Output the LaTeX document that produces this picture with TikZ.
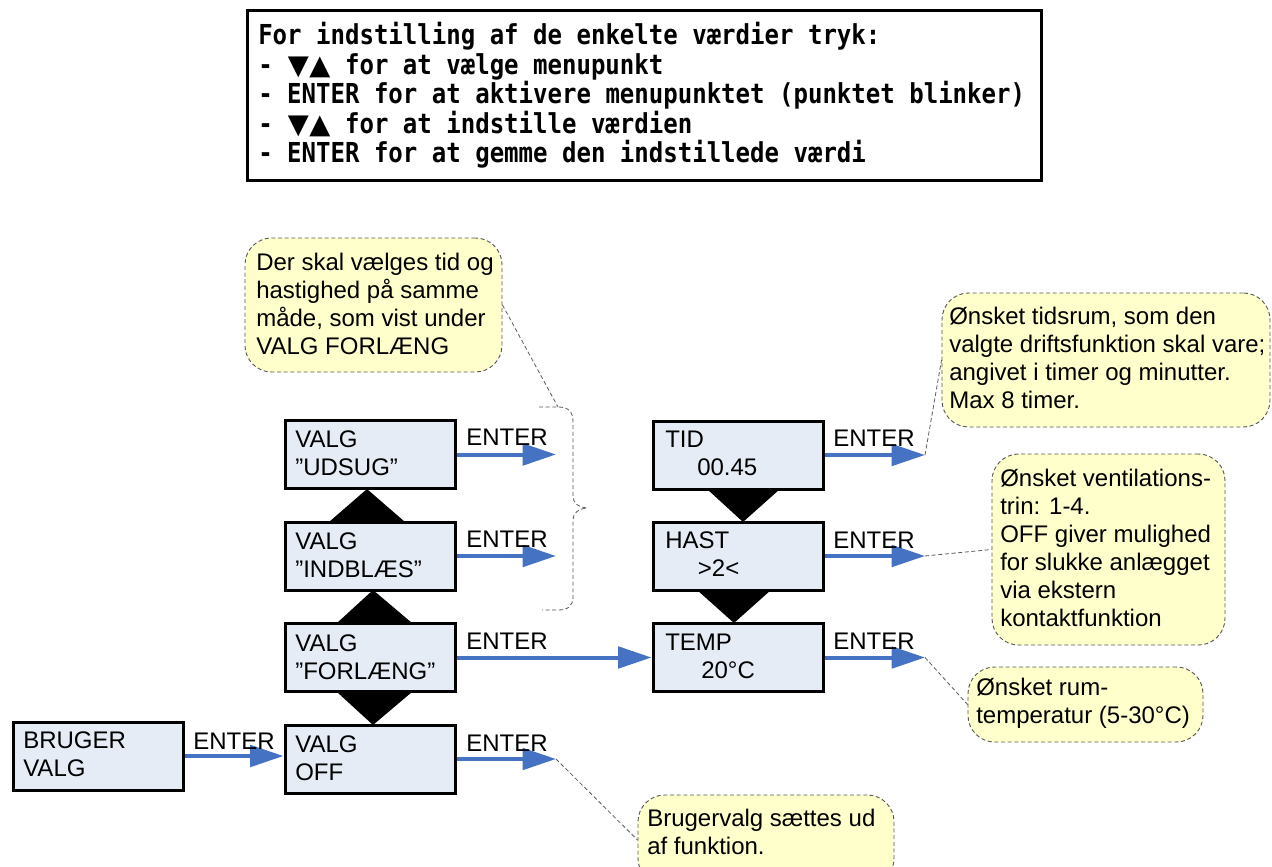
\documentclass[tikz,border=0pt]{standalone}
\usepackage{fontspec}
\setmainfont{Liberation Sans}
\newfontfamily\topmono[FakeStretch=0.875]{DejaVu Sans Mono}
\newfontfamily\trifont{DejaVu Sans}
\newcommand{\updowntri}{\makebox[43.4pt][l]{\hspace*{0.5pt}{\trifont\fontsize{20.5}{20}\selectfont ▼\hspace*{0.3pt}▲}}}
\usetikzlibrary{arrows.meta,calc}
\definecolor{boxblue}{RGB}{230,236,246}
\definecolor{noteyellow}{RGB}{255,255,204}
\definecolor{arrowblue}{RGB}{70,114,196}
\definecolor{notegray}{RGB}{90,90,90}
\tikzset{
  box/.style={draw=black, line width=2.25pt, fill=boxblue, minimum width=127.5pt, minimum height=51pt, inner sep=0pt},
  note/.style={draw=notegray, line width=0.7pt, dash pattern=on 3pt off 2pt, fill=noteyellow, rounded corners=20pt, inner sep=0pt},
  txt/.style={anchor=base west, align=left, inner sep=0pt, font=\fontsize{18}{21}\selectfont},
  enter/.style={draw=arrowblue, line width=3pt, -{Triangle[length=25pt,width=16pt]}},
  pointer/.style={draw=notegray, line width=0.6pt, dash pattern=on 3pt off 2pt},
  tri/.style={fill=black}
}
\begin{document}
\begin{tikzpicture}[x=0.75pt,y=-0.75pt]
\clip (0,0) rectangle (1272,867);
\fill[white] (0,0) rectangle (1272,867);

% instruction box (text anchored at baseline of its last line)
\node[draw=black, line width=2.25pt, minimum width=595.5pt, minimum height=126.75pt, inner sep=0pt] (instr) at (644,95.5) {};
\node[anchor=base west, align=left, inner sep=0pt, font=\topmono\bfseries\fontsize{20.6}{22.1}\selectfont] (instrtext) at (258,162.5)
 {For indstilling af de enkelte værdier tryk:\\
  - \updowntri for at vælge menupunkt\\
  - ENTER for at aktivere menupunktet (punktet blinker)\\
  - \updowntri for at indstille værdien\\
  - ENTER for at gemme den indstillede værdi};

% triangles (behind boxes)
\fill[tri] (329,522) -- (367,489) -- (405,522) -- cycle;
\fill[tri] (337,623) -- (373,590) -- (412,623) -- cycle;
\fill[tri] (337,692) -- (373,725) -- (412,692) -- cycle;
\fill[tri] (707,489) -- (743,522) -- (780,489) -- cycle;
\fill[tri] (697,590) -- (734,623) -- (771,590) -- cycle;

% boxes
\node[box] (udsug) at (370,454.5) {};
\node[box] (indblaes) at (370,556) {};
\node[box] (forlaeng) at (370,657.5) {};
\node[box] (off) at (370,759) {};
\node[box] (bruger) at (98,756) {};
\node[box] (tid) at (738,455) {};
\node[box] (hast) at (738,556) {};
\node[box] (temp) at (738,657.5) {};

\node[txt] (udsugT) at (295,475) {VALG\\”UDSUG”};
\node[txt] (indblaesT) at (295,577) {VALG\\”INDBLÆS”};
\node[txt] (forlaengT) at (295,679) {VALG\\”FORLÆNG”};
\node[txt] (offT) at (295,780) {VALG\\OFF};
\node[txt] (brugerT) at (23,776) {BRUGER\\VALG};
\node[txt] (tidT) at (665,475) {TID\\\hspace*{24pt}00.45};
\node[txt] (hastT) at (665,576) {HAST\\\hspace*{24.5pt}>2<};
\node[txt] (tempT) at (665,678) {TEMP\\\hspace*{27pt}20°C};

% arrow end points
\coordinate (tU) at (556,454.5);
\coordinate (tI) at (556,556);
\coordinate (tO) at (556,759);
\coordinate (tT) at (925,455);
\coordinate (tH) at (925,556);
\coordinate (tTe) at (925,657.5);

\draw[enter] (udsug.east) -- (tU);
\draw[enter] (indblaes.east) -- (tI);
\draw[enter] (forlaeng.east) -- (temp.west);
\draw[enter] (off.east) -- (tO);
\draw[enter] (bruger.east) -- (bruger.east -| off.west);
\draw[enter] (tid.east) -- (tT);
\draw[enter] (hast.east) -- (tH);
\draw[enter] (temp.east) -- (tTe);

\node[txt] (e1) at (466,445) {ENTER};
\node[txt] (e2) at (466,547) {ENTER};
\node[txt] (e3) at (466,649) {ENTER};
\node[txt] (e4) at (466,751) {ENTER};
\node[txt] (e5) at (193,749) {ENTER};
\node[txt] (e6) at (833,446) {ENTER};
\node[txt] (e7) at (833,548) {ENTER};
\node[txt] (e8) at (833,649) {ENTER};

% brace
\coordinate (braceTop) at (558,407);
\draw[pointer] (539,407) -- (558,407) .. controls (569,407) and (573,412) .. (573,422) -- (573,496)
  .. controls (573,503) and (578,507) .. (587,508) .. controls (578,509) and (573,513) .. (573,520)
  -- (573,597) .. controls (573,606) and (568,610) .. (558,610) -- (542,610);

% callouts
\node[note, minimum width=192.75pt, minimum height=100.5pt] (c1) at (373.5,305) {};
\node[note, minimum width=246pt, minimum height=100.5pt] (ctid) at (1106,360) {};
\node[note, minimum width=174.75pt, minimum height=143.25pt] (chast) at (1108.5,549.5) {};
\node[note, minimum width=176.25pt, minimum height=56.25pt] (ctemp) at (1085.5,704.5) {};
\node[note, minimum width=192pt, minimum height=67.5pt] (coff) at (766,840) {};

\draw[pointer] (c1.east) -- (braceTop);
\draw[pointer] (tT) -- (ctid.west);
\draw[pointer] (tH) -- (chast.west);
\draw[pointer] (tTe) -- (ctemp.west);
\draw[pointer] (tO) -- (coff.west);

\node[txt] (c1T) at (256,354) {Der skal vælges tid og\\hastighed på samme\\måde, som vist under\\VALG FORLÆNG};
\node[txt] (ctidT) at (949,408) {Ønsket tidsrum, som den\\valgte driftsfunktion skal vare;\\angivet i timer og minutter.\\Max 8 timer.};
\node[txt] (chastT) at (1000,626) {Ønsket ventilations-\\trin: 1-4.\\OFF giver mulighed\\for slukke anlægget\\via ekstern\\kontaktfunktion};
\node[txt] (ctempT) at (976,723) {Ønsket rum-\\temperatur (5-30°C)};
\node[txt] (coffT) at (647,854) {Brugervalg sættes ud\\af funktion.};
\end{tikzpicture}
\end{document}
